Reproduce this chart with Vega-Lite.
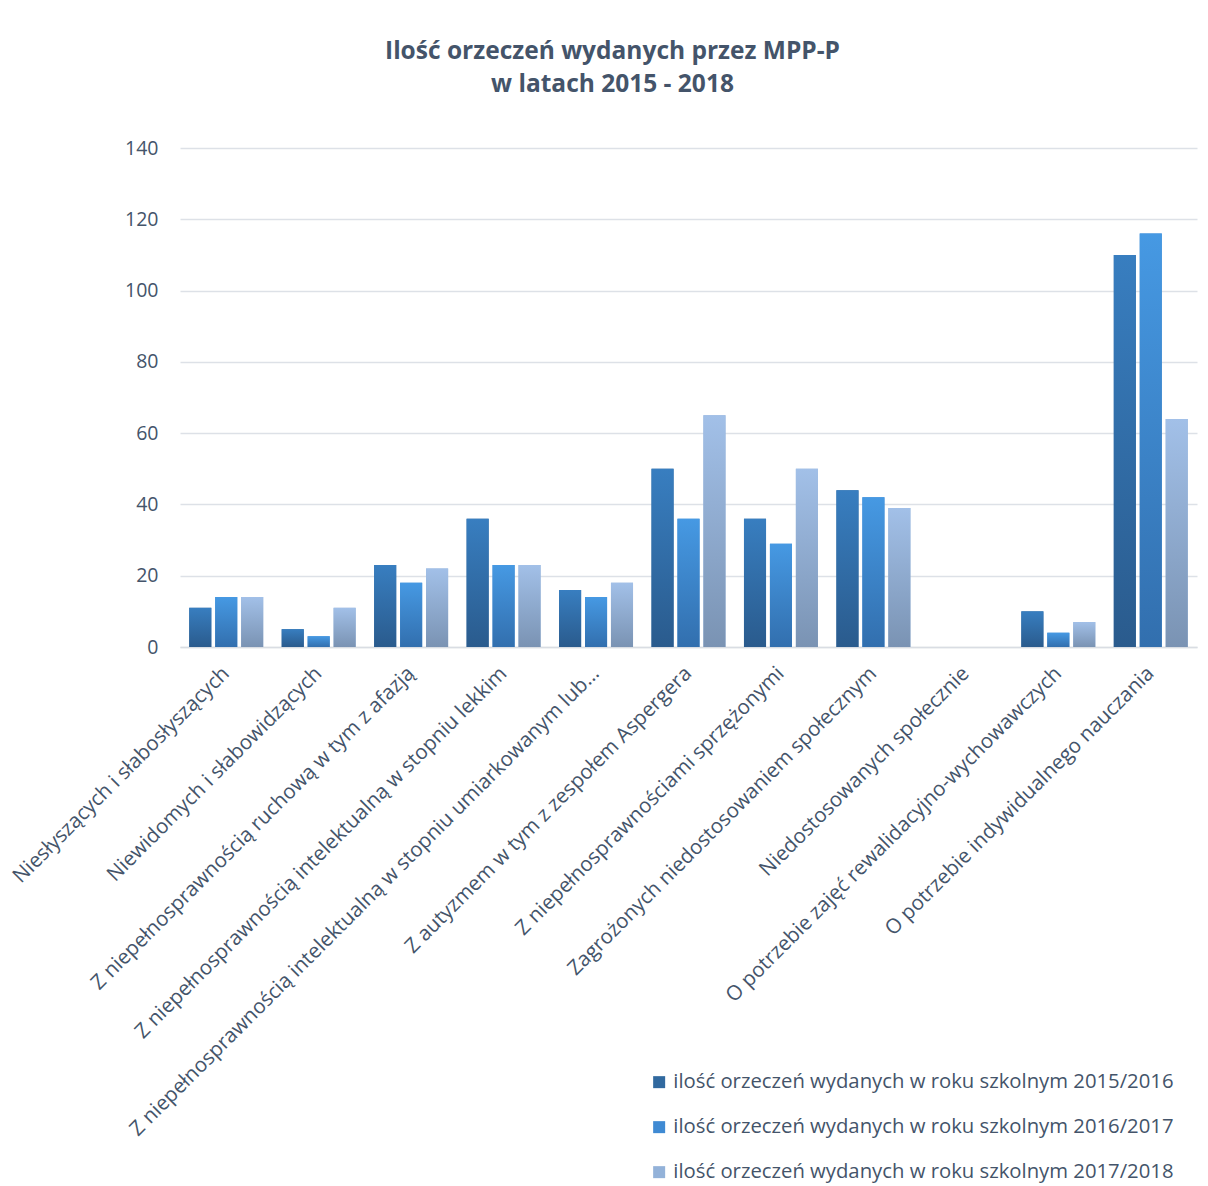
{
  "$schema": "https://vega.github.io/schema/vega-lite/v6.json",
  "width": 1017,
  "height": 499,
  "autosize": {"type": "none"},
  "padding": {"left": 180, "top": 148, "right": 11, "bottom": 539},
  "background": "white",
  "title": {
    "text": ["Ilość orzeczeń wydanych przez MPP-P", "w latach 2015 - 2018"],
    "font": "Open Sans",
    "fontSize": 24.5,
    "fontWeight": "bold",
    "color": "#44546a",
    "lineHeight": 33,
    "anchor": "middle",
    "dx": -76,
    "offset": 41
  },
  "data": {
    "values": [
      {"kategoria": "Niesłyszących i słabosłyszących", "rok": "ilość orzeczeń wydanych w roku szkolnym 2015/2016", "wartosc": 11},
      {"kategoria": "Niesłyszących i słabosłyszących", "rok": "ilość orzeczeń wydanych w roku szkolnym 2016/2017", "wartosc": 14},
      {"kategoria": "Niesłyszących i słabosłyszących", "rok": "ilość orzeczeń wydanych w roku szkolnym 2017/2018", "wartosc": 14},
      {"kategoria": "Niewidomych i słabowidzących", "rok": "ilość orzeczeń wydanych w roku szkolnym 2015/2016", "wartosc": 5},
      {"kategoria": "Niewidomych i słabowidzących", "rok": "ilość orzeczeń wydanych w roku szkolnym 2016/2017", "wartosc": 3},
      {"kategoria": "Niewidomych i słabowidzących", "rok": "ilość orzeczeń wydanych w roku szkolnym 2017/2018", "wartosc": 11},
      {"kategoria": "Z niepełnosprawnością ruchową w tym z afazją", "rok": "ilość orzeczeń wydanych w roku szkolnym 2015/2016", "wartosc": 23},
      {"kategoria": "Z niepełnosprawnością ruchową w tym z afazją", "rok": "ilość orzeczeń wydanych w roku szkolnym 2016/2017", "wartosc": 18},
      {"kategoria": "Z niepełnosprawnością ruchową w tym z afazją", "rok": "ilość orzeczeń wydanych w roku szkolnym 2017/2018", "wartosc": 22},
      {"kategoria": "Z niepełnosprawnością intelektualną w stopniu lekkim", "rok": "ilość orzeczeń wydanych w roku szkolnym 2015/2016", "wartosc": 36},
      {"kategoria": "Z niepełnosprawnością intelektualną w stopniu lekkim", "rok": "ilość orzeczeń wydanych w roku szkolnym 2016/2017", "wartosc": 23},
      {"kategoria": "Z niepełnosprawnością intelektualną w stopniu lekkim", "rok": "ilość orzeczeń wydanych w roku szkolnym 2017/2018", "wartosc": 23},
      {"kategoria": "Z niepełnosprawnością intelektualną w stopniu umiarkowanym lub…", "rok": "ilość orzeczeń wydanych w roku szkolnym 2015/2016", "wartosc": 16},
      {"kategoria": "Z niepełnosprawnością intelektualną w stopniu umiarkowanym lub…", "rok": "ilość orzeczeń wydanych w roku szkolnym 2016/2017", "wartosc": 14},
      {"kategoria": "Z niepełnosprawnością intelektualną w stopniu umiarkowanym lub…", "rok": "ilość orzeczeń wydanych w roku szkolnym 2017/2018", "wartosc": 18},
      {"kategoria": "Z autyzmem w tym z zespołem Aspergera", "rok": "ilość orzeczeń wydanych w roku szkolnym 2015/2016", "wartosc": 50},
      {"kategoria": "Z autyzmem w tym z zespołem Aspergera", "rok": "ilość orzeczeń wydanych w roku szkolnym 2016/2017", "wartosc": 36},
      {"kategoria": "Z autyzmem w tym z zespołem Aspergera", "rok": "ilość orzeczeń wydanych w roku szkolnym 2017/2018", "wartosc": 65},
      {"kategoria": "Z niepełnosprawnościami sprzężonymi", "rok": "ilość orzeczeń wydanych w roku szkolnym 2015/2016", "wartosc": 36},
      {"kategoria": "Z niepełnosprawnościami sprzężonymi", "rok": "ilość orzeczeń wydanych w roku szkolnym 2016/2017", "wartosc": 29},
      {"kategoria": "Z niepełnosprawnościami sprzężonymi", "rok": "ilość orzeczeń wydanych w roku szkolnym 2017/2018", "wartosc": 50},
      {"kategoria": "Zagrożonych niedostosowaniem społecznym", "rok": "ilość orzeczeń wydanych w roku szkolnym 2015/2016", "wartosc": 44},
      {"kategoria": "Zagrożonych niedostosowaniem społecznym", "rok": "ilość orzeczeń wydanych w roku szkolnym 2016/2017", "wartosc": 42},
      {"kategoria": "Zagrożonych niedostosowaniem społecznym", "rok": "ilość orzeczeń wydanych w roku szkolnym 2017/2018", "wartosc": 39},
      {"kategoria": "Niedostosowanych społecznie", "rok": "ilość orzeczeń wydanych w roku szkolnym 2015/2016", "wartosc": 0},
      {"kategoria": "Niedostosowanych społecznie", "rok": "ilość orzeczeń wydanych w roku szkolnym 2016/2017", "wartosc": 0},
      {"kategoria": "Niedostosowanych społecznie", "rok": "ilość orzeczeń wydanych w roku szkolnym 2017/2018", "wartosc": 0},
      {"kategoria": "O potrzebie zajęć rewalidacyjno-wychowawczych", "rok": "ilość orzeczeń wydanych w roku szkolnym 2015/2016", "wartosc": 10},
      {"kategoria": "O potrzebie zajęć rewalidacyjno-wychowawczych", "rok": "ilość orzeczeń wydanych w roku szkolnym 2016/2017", "wartosc": 4},
      {"kategoria": "O potrzebie zajęć rewalidacyjno-wychowawczych", "rok": "ilość orzeczeń wydanych w roku szkolnym 2017/2018", "wartosc": 7},
      {"kategoria": "O potrzebie indywidualnego nauczania", "rok": "ilość orzeczeń wydanych w roku szkolnym 2015/2016", "wartosc": 110},
      {"kategoria": "O potrzebie indywidualnego nauczania", "rok": "ilość orzeczeń wydanych w roku szkolnym 2016/2017", "wartosc": 116},
      {"kategoria": "O potrzebie indywidualnego nauczania", "rok": "ilość orzeczeń wydanych w roku szkolnym 2017/2018", "wartosc": 64}
    ]
  },
  "encoding": {
    "x": {
      "field": "kategoria",
      "type": "nominal",
      "sort": null,
      "title": null,
      "scale": {"paddingInner": 0.2, "paddingOuter": 0.1},
      "axis": {
        "labelAngle": -45,
        "labelAlign": "right",
        "labelBaseline": "middle",
        "labelFont": "Open Sans",
        "labelFontSize": 20.5,
        "labelColor": "#44546a",
        "labelPadding": 23,
        "labelLimit": 800,
        "ticks": false,
        "domain": true,
        "domainColor": "#d9dde3",
        "domainWidth": 1.5,
        "grid": false
      }
    },
    "xOffset": {
      "field": "rok",
      "type": "nominal",
      "scale": {"paddingInner": 0.15}
    },
    "y": {
      "field": "wartosc",
      "type": "quantitative",
      "title": null,
      "scale": {"domain": [0, 140]},
      "axis": {
        "values": [0, 20, 40, 60, 80, 100, 120, 140],
        "labelFont": "Open Sans",
        "labelFontSize": 19.5,
        "labelColor": "#44546a",
        "labelPadding": 22,
        "ticks": false,
        "domain": false,
        "grid": true,
        "gridColor": "#dde1e7",
        "gridWidth": 1.5
      }
    }
  },
  "layer": [
    {
      "mark": {"type": "bar"},
      "encoding": {
        "color": {
          "field": "rok",
          "type": "nominal",
          "title": null,
          "scale": {"range": ["#31699f", "#3f8ad3", "#93b2d9"]},
          "legend": {
            "orient": "none",
            "legendX": 469,
            "legendY": 924,
            "direction": "vertical",
            "symbolType": "square",
            "symbolSize": 144,
            "symbolStrokeWidth": 0,
            "labelFont": "Open Sans",
            "labelFontSize": 20.3,
            "labelColor": "#44546a",
            "labelLimit": 800,
            "labelOffset": 4,
            "rowPadding": 24
          }
        }
      }
    },
    {
      "mark": {"type": "bar"},
      "encoding": {
        "fill": {
          "condition": [
            {
              "test": "datum.rok === 'ilość orzeczeń wydanych w roku szkolnym 2015/2016'",
              "value": {"gradient": "linear", "x1": 0, "y1": 0, "x2": 0, "y2": 1, "stops": [{"offset": 0, "color": "#387ec0"}, {"offset": 1, "color": "#2a5b8d"}]}
            },
            {
              "test": "datum.rok === 'ilość orzeczeń wydanych w roku szkolnym 2016/2017'",
              "value": {"gradient": "linear", "x1": 0, "y1": 0, "x2": 0, "y2": 1, "stops": [{"offset": 0, "color": "#4699e3"}, {"offset": 1, "color": "#326fae"}]}
            }
          ],
          "value": {"gradient": "linear", "x1": 0, "y1": 0, "x2": 0, "y2": 1, "stops": [{"offset": 0, "color": "#a2c0e8"}, {"offset": 1, "color": "#7a93b3"}]}
        }
      }
    }
  ],
  "config": {
    "view": {"stroke": null},
    "font": "Open Sans"
  }
}
